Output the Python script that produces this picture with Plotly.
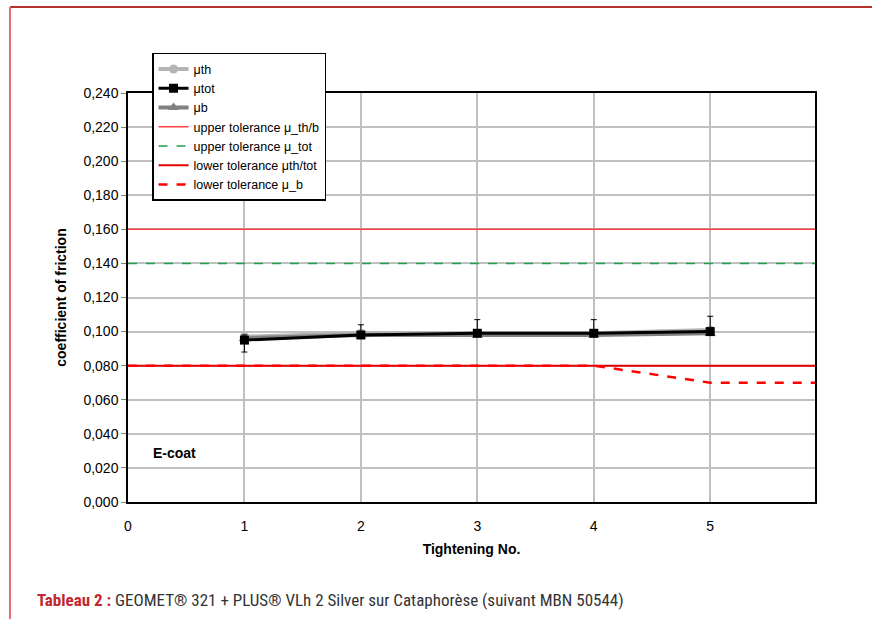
import plotly.graph_objects as go

tightening = [1, 2, 3, 4, 5]
mu_th = [0.097, 0.099, 0.099, 0.099, 0.101]
mu_tot = [0.095, 0.098, 0.099, 0.099, 0.100]
mu_b = [0.096, 0.098, 0.098, 0.098, 0.099]
err_plus = [0.003, 0.006, 0.008, 0.008, 0.009]
err_minus = [0.007, 0.0, 0.0, 0.0, 0.0]

tol_x = [0, 1, 2, 3, 4, 5, 6]
upper_th_b = [0.160] * 7
upper_tot = [0.140] * 7
lower_th_tot = [0.080] * 7
lower_b = [0.080, 0.080, 0.080, 0.080, 0.080, 0.070, 0.070]

y_ticks = [i * 0.02 for i in range(13)]

FONT = "Liberation Sans, Arial, sans-serif"

fig = go.Figure()
fig.add_trace(go.Scatter(x=tol_x, y=upper_th_b, mode="lines", name="upper tolerance μ_th/b",
                         line=dict(color="#ff4040", width=1.5), legendrank=4))
fig.add_trace(go.Scatter(x=tol_x, y=upper_tot, mode="lines", name="upper tolerance μ_tot",
                         line=dict(color="#1fa04e", width=1.5, dash="dash"), legendrank=5))
fig.add_trace(go.Scatter(x=tol_x, y=lower_th_tot, mode="lines", name="lower tolerance μth/tot",
                         line=dict(color="#e00000", width=2), legendrank=6))
fig.add_trace(go.Scatter(x=tol_x, y=lower_b, mode="lines", name="lower tolerance μ_b",
                         line=dict(color="#ff0000", width=2.5, dash="dash"), legendrank=7))
fig.add_trace(go.Scatter(x=tightening, y=mu_th, mode="lines+markers", name="μth",
                         line=dict(color="#b4b4b4", width=4),
                         marker=dict(symbol="circle", size=9, color="#b4b4b4"), legendrank=1))
fig.add_trace(go.Scatter(x=tightening, y=mu_b, mode="lines+markers", name="μb",
                         line=dict(color="#808080", width=4),
                         marker=dict(symbol="triangle-up", size=10, color="#808080"), legendrank=3))
fig.add_trace(go.Scatter(x=tightening, y=mu_tot, mode="lines+markers", name="μtot",
                         line=dict(color="#000000", width=3),
                         marker=dict(symbol="square", size=9, color="#000000"),
                         error_y=dict(type="data", array=err_plus, arrayminus=err_minus,
                                      color="#000000", thickness=1, width=3),
                         legendrank=2))

fig.add_annotation(x=0.2, y=0.029, xref="x", yref="y", text="<b>E-coat</b>", showarrow=False,
                   xanchor="left", font=dict(family=FONT, size=14, color="#000"))

fig.update_layout(
    width=872, height=619,
    margin=dict(l=128, r=57, t=93, b=117),
    paper_bgcolor="white", plot_bgcolor="white",
    separators=", ",
    font=dict(family=FONT, size=14, color="#000"),
    showlegend=True,
    legend=dict(x=0.035, y=1.098, xanchor="left", yanchor="top", bgcolor="white",
                bordercolor="#000", borderwidth=1.5, font=dict(family=FONT, size=12.5),
                tracegroupgap=0),
    xaxis=dict(range=[0, 5.9], tickvals=[0, 1, 2, 3, 4, 5], showgrid=True, gridcolor="#c0c0c0",
               gridwidth=1.5, showline=True, linecolor="#000", linewidth=2, mirror=True,
               zeroline=False, ticks="", ticklen=0, ticklabelstandoff=10,
               tickfont=dict(family=FONT, size=14),
               title=dict(text="<b>Tightening No.</b>", font=dict(family=FONT, size=14), standoff=11)),
    yaxis=dict(range=[0, 0.24], tickvals=y_ticks, tickformat=".3f", showgrid=True,
               gridcolor="#c0c0c0", gridwidth=1.5, showline=True, linecolor="#000", linewidth=1.5,
               mirror=True, zeroline=False, ticks="outside", ticklen=5, tickcolor="#808080",
               tickfont=dict(family=FONT, size=14),
               title=dict(text="<b>coefficient of friction</b>", font=dict(family=FONT, size=14),
                          standoff=14)),
)

# page frame lines
fig.add_shape(type="line", xref="paper", yref="paper", x0=-118/687, x1=(872-128)/687 + 0.01,
              y0=(502-7)/409, y1=(502-7)/409, line=dict(color="#b5332b", width=2))
fig.add_shape(type="line", xref="paper", yref="paper", x0=-118/687, x1=-118/687,
              y0=(502-7)/409, y1=-(619-502)/409 - 0.01, line=dict(color="#e07070", width=2))

fig.add_annotation(xref="paper", yref="paper", x=-(128-35)/687, y=-(600-502)/409,
                   xanchor="left", yanchor="middle", showarrow=False,
                   text="<b><span style='color:#c0272d'>Tableau 2 :</span></b> GEOMET® 321 + PLUS® VLh 2 Silver sur Cataphorèse (suivant MBN 50544)",
                   font=dict(family="Liberation Sans Narrow, Arial Narrow, Roboto Condensed, sans-serif",
                             size=17, color="#333"))

fig.write_html("out.html")
